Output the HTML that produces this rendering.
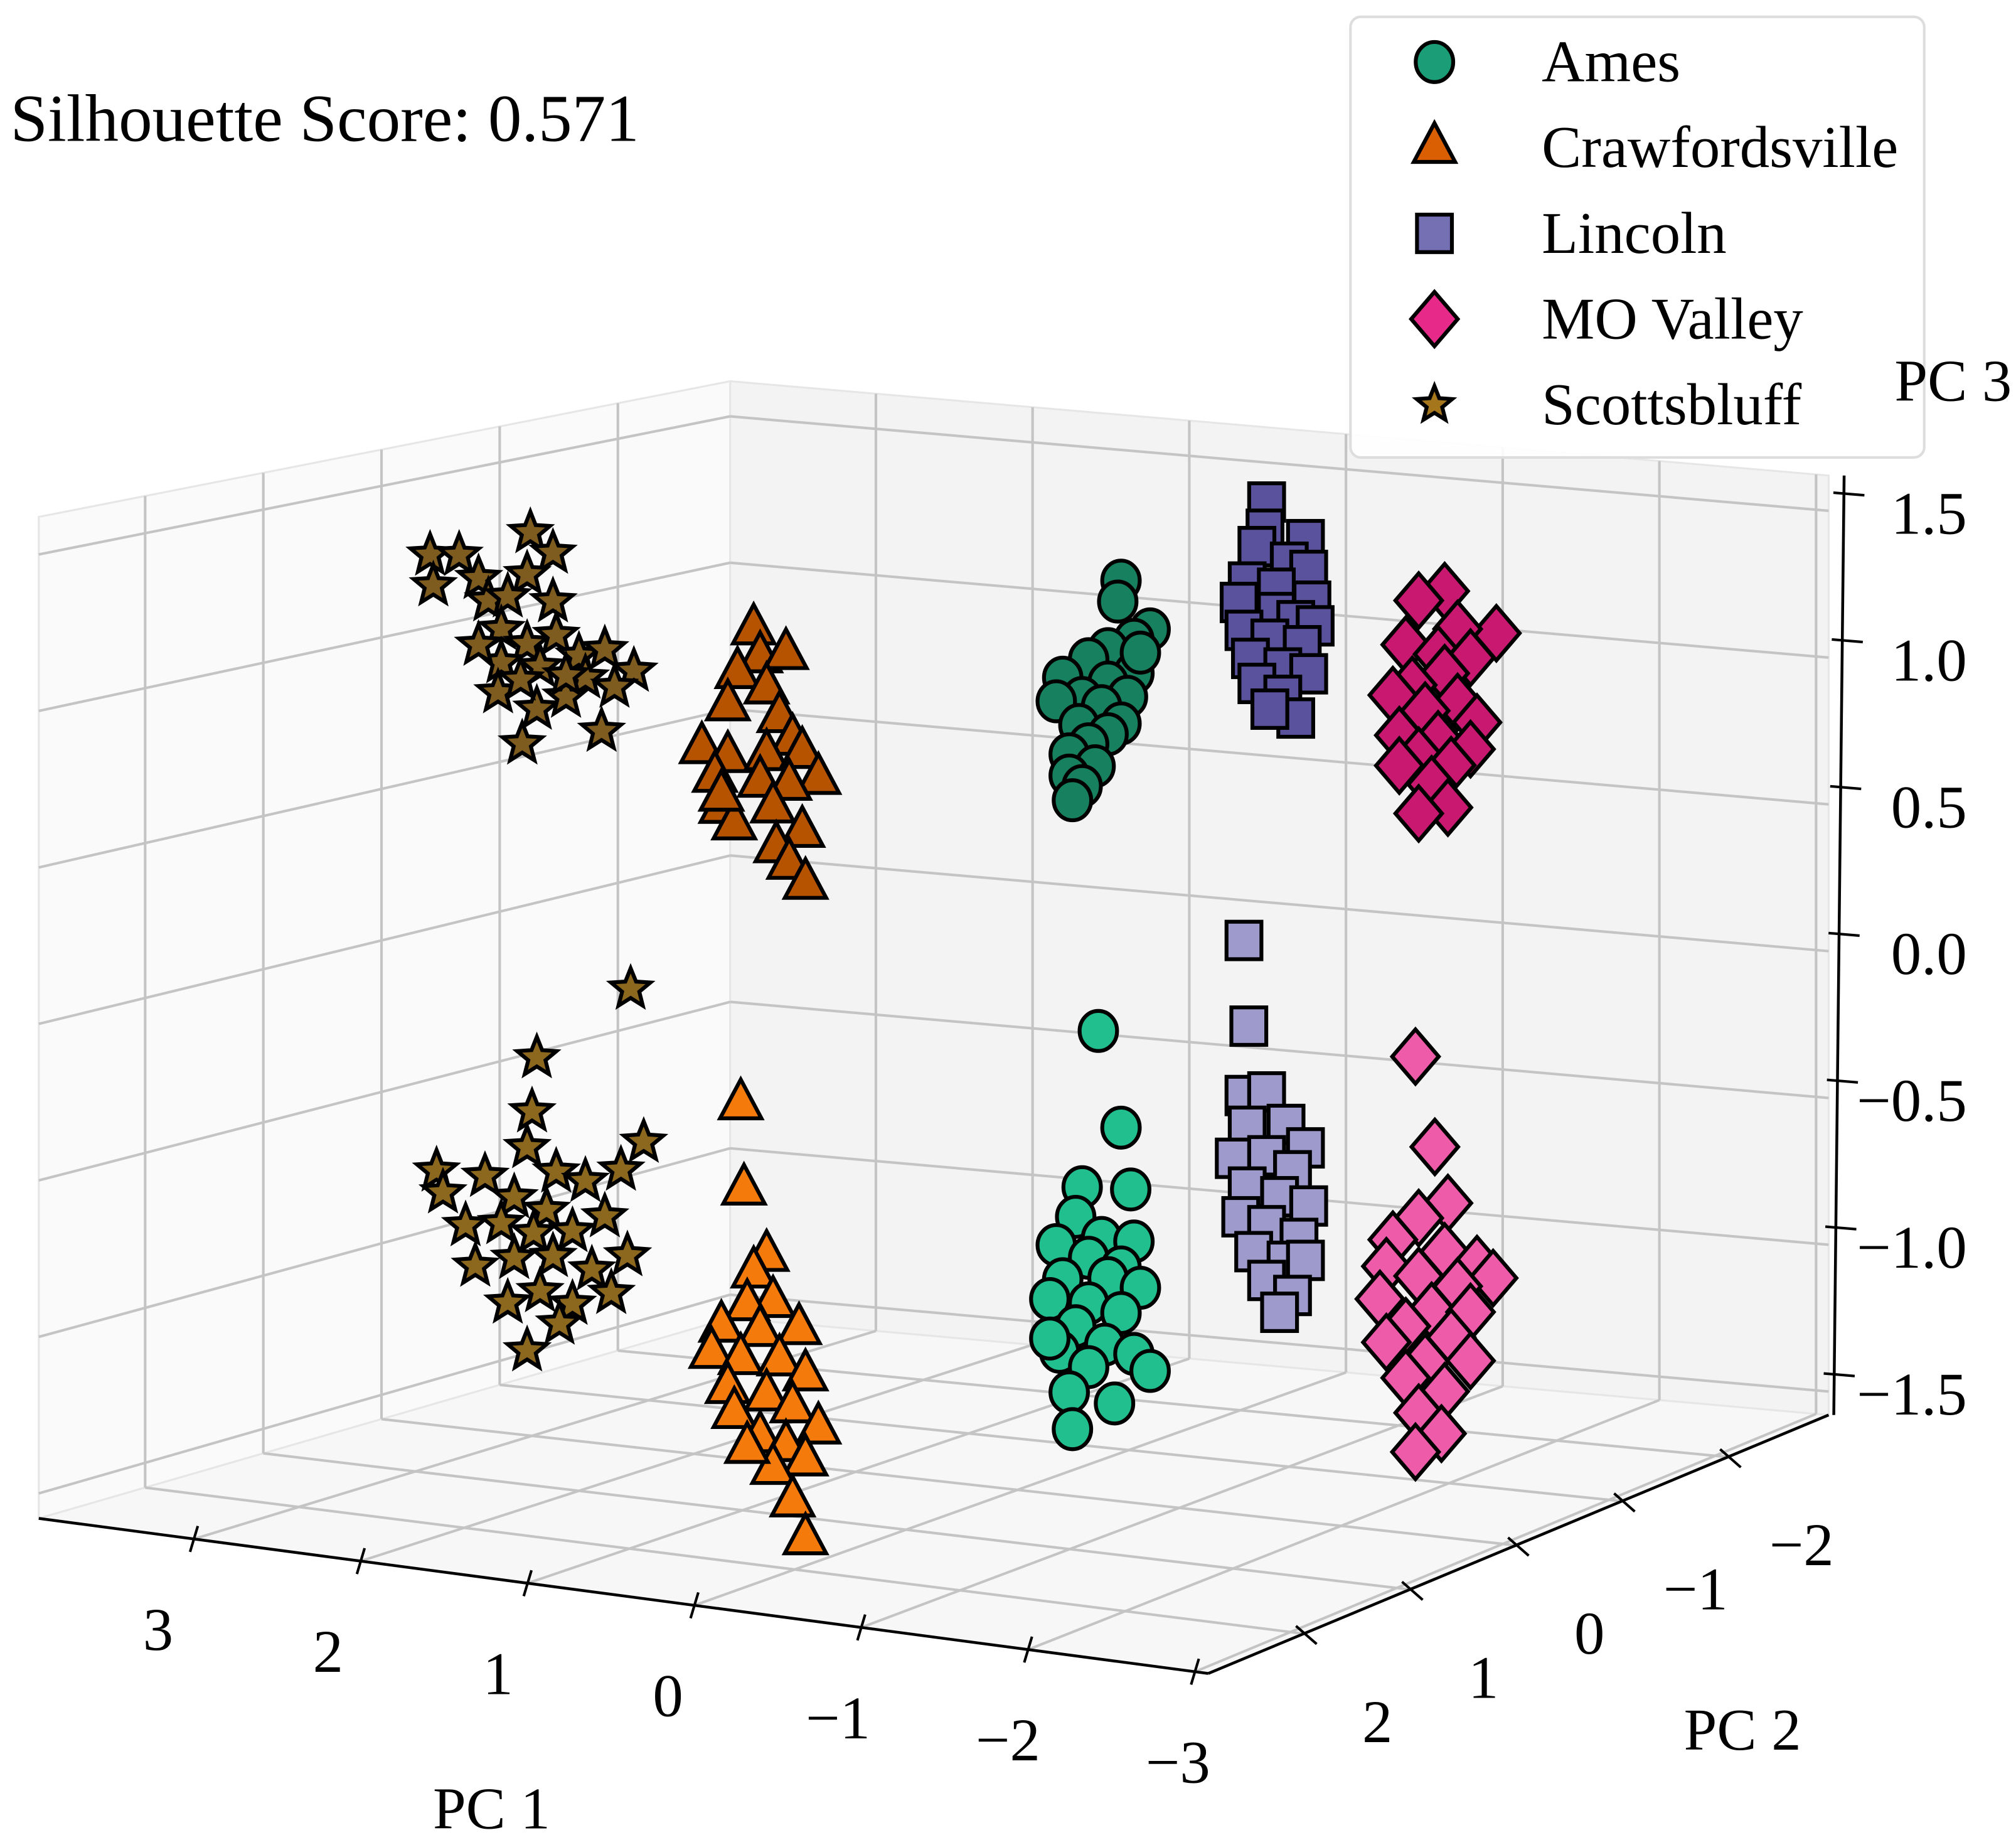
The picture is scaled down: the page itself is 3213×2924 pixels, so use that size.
<!DOCTYPE html>
<html><head><meta charset="utf-8"><title>PCA 3D scatter</title>
<style>
html,body{margin:0;padding:0;background:#fff;}
svg{display:block;}
text{font-family:"Liberation Serif","DejaVu Serif",serif;fill:#000;}
</style></head>
<body>
<svg id="chart" xmlns="http://www.w3.org/2000/svg" width="3213" height="2924" viewBox="0 0 1560 1420" preserveAspectRatio="none">
  <rect x="0" y="0" width="1560" height="1420" fill="#ffffff"/>
  <g id="panes"></g>
  <g id="grid"></g>
  <g id="axes"></g>
  <g id="points"></g>
  <text x="8" y="109" font-size="52">Silhouette Score: 0.571</text>
  <text x="335" y="1415" font-size="46">PC 1</text>
  <text x="1303" y="1354" font-size="46">PC 2</text>
  <g id="legend">
    <rect x="1045" y="13" width="444" height="341" rx="8" fill="#ffffff" fill-opacity="0.9" stroke="#dddddd" stroke-width="2"/>
  </g>
  <text x="1466" y="310" font-size="46">PC 3</text>
</svg>
<script>
// ---------------- data (PC1, PC3 per site cluster; PC2 ~ 0) ----------------
const scottsUpperPC1 = [3.63,3.45,3.61,3.33,3.27,3.01,2.87,3.03,3.15,2.87,3.19,3.03,2.85,2.71,2.55,2.37,2.67,2.95,3.19,3.21,2.97,2.79,2.57,3.06,2.49,2.79,3.07,3.33];
const scottsUpperPC3 = [1.29,1.30,1.19,1.23,1.16,1.40,1.34,1.26,1.18,1.18,1.07,1.03,1.07,1.01,1.04,0.98,0.94,0.96,0.96,0.86,0.82,0.87,0.77,0.70,0.92,0.94,0.91,1.01];
const scottsLowerPC1 = [2.39,2.97,3.00,2.31,3.03,2.45,3.59,3.29,2.85,2.67,3.55,3.11,2.91,2.55,3.41,3.19,2.99,2.75,2.41,3.35,3.11,2.87,2.63,2.95,2.75,2.51,2.83,3.03,3.15];
const scottsLowerPC3 = [-0.07,-0.33,-0.51,-0.57,-0.63,-0.67,-0.74,-0.74,-0.70,-0.72,-0.81,-0.80,-0.83,-0.83,-0.91,-0.89,-0.91,-0.89,-0.95,-1.04,-1.00,-0.98,-1.01,-1.10,-1.13,-1.08,-1.20,-1.30,-1.15];
const crawUpperPC1 = [1.63,1.59,1.43,1.73,1.55,1.79,1.47,1.39,1.95,1.79,1.55,1.33,1.23,1.87,1.59,1.41,1.83,1.51,1.33,1.75,1.49,1.41,1.31,1.83];
const crawUpperPC3 = [1.16,1.07,1.09,1.01,0.97,0.90,0.88,0.81,0.75,0.73,0.75,0.77,0.69,0.66,0.66,0.66,0.56,0.58,0.51,0.51,0.45,0.40,0.34,0.60];
const crawLowerPC1 = [1.71,1.69,1.55,1.63,1.51,1.67,1.35,1.83,1.59,1.89,1.71,1.47,1.31,1.79,1.55,1.39,1.75,1.23,1.59,1.43,1.31,1.51,1.39,1.31,1.67];
const crawLowerPC3 = [-0.41,-0.69,-0.90,-0.96,-1.05,-1.07,-1.13,-1.15,-1.15,-1.24,-1.25,-1.24,-1.28,-1.35,-1.36,-1.39,-1.43,-1.45,-1.50,-1.52,-1.56,-1.60,-1.70,-1.82,-1.54];
const amesUpperPC1 = [-0.64,-0.62,-0.82,-0.72,-0.56,-0.72,-0.44,-0.28,-0.56,-0.68,-0.40,-0.24,-0.52,-0.64,-0.38,-0.56,-0.44,-0.32,-0.48,-0.32,-0.40,-0.34,-0.76];
const amesUpperPC3 = [1.45,1.38,1.30,1.26,1.22,1.15,1.18,1.11,1.11,1.07,1.05,1.03,1.03,0.98,0.96,0.94,0.90,0.86,0.83,0.79,0.76,0.71,1.22];
const amesLowerPC1 = [-0.50,-0.64,-0.40,-0.70,-0.36,-0.52,-0.72,-0.24,-0.44,-0.64,-0.28,-0.56,-0.76,-0.20,-0.44,-0.64,-0.36,-0.54,-0.72,-0.26,-0.82,-0.44,-0.32,-0.60,-0.34,-0.20];
const amesLowerPC3 = [-0.04,-0.35,-0.56,-0.55,-0.66,-0.72,-0.72,-0.76,-0.79,-0.81,-0.87,-0.85,-0.87,-0.94,-0.94,-0.96,-1.02,-1.07,-1.09,-1.11,-1.14,-1.15,-1.24,-1.26,-1.36,-1.07];
const lincolnUpperPC1 = [-1.54,-1.53,-1.78,-1.48,-1.68,-1.80,-1.42,-1.60,-1.82,-1.37,-1.60,-1.72,-1.84,-1.40,-1.56,-1.76,-1.44,-1.64,-1.80,-1.48,-1.64,-1.72,-1.56];
const lincolnUpperPC3 = [1.76,1.67,1.65,1.61,1.57,1.55,1.49,1.48,1.45,1.42,1.40,1.38,1.37,1.33,1.31,1.30,1.24,1.22,1.21,1.16,1.13,1.06,1.08];
const lincolnLowerPC1 = [-1.40,-1.43,-1.40,-1.54,-1.66,-1.42,-1.78,-1.34,-1.54,-1.70,-1.42,-1.62,-1.80,-1.38,-1.54,-1.74,-1.46,-1.66,-1.78,-1.54,-1.70,-1.62];
const lincolnLowerPC3 = [0.31,0.03,-0.20,-0.18,-0.28,-0.30,-0.35,-0.41,-0.39,-0.43,-0.50,-0.52,-0.54,-0.60,-0.62,-0.65,-0.71,-0.73,-0.72,-0.80,-0.84,-0.90];
const moUpperPC1 = [-2.64,-2.48,-2.96,-2.72,-2.40,-2.60,-2.80,-2.64,-2.44,-2.32,-2.72,-2.52,-2.84,-2.36,-2.60,-2.80,-2.48,-2.68,-2.36,-2.56,-2.66,-2.48];
const moUpperPC3 = [1.53,1.49,1.41,1.41,1.34,1.32,1.32,1.26,1.21,1.17,1.17,1.13,1.11,1.04,1.04,1.02,0.98,0.96,0.94,0.89,0.82,0.79];
const moLowerPC1 = [-2.46,-2.58,-2.66,-2.48,-2.32,-2.64,-2.84,-2.28,-2.48,-2.94,-2.72,-2.24,-2.56,-2.80,-2.40,-2.68,-2.28,-2.52,-2.80,-2.40,-2.64,-2.48,-2.62,-2.46];
const moLowerPC3 = [-0.01,-0.30,-0.48,-0.54,-0.62,-0.64,-0.67,-0.71,-0.73,-0.71,-0.75,-0.82,-0.84,-0.83,-0.90,-0.92,-0.96,-1.01,-0.99,-1.07,-1.10,-1.18,-1.24,-1.31];
const pc1Ticks = [3,2,1,0,-1,-2,-3];
const pc2Ticks = [2,1,0,-1,-2];
const pc3Ticks = [1.5,1.0,0.5,0.0,-0.5,-1.0,-1.5];
const pc1TickLabels = ["3","2","1","0","\u22121","\u22122","\u22123"];
const pc2TickLabels = ["2","1","0","\u22121","\u22122"];
const pc3TickLabels = ["1.5","1.0","0.5","0.0","\u22120.5","\u22121.0","\u22121.5"];
const legendLabels = ["Ames","Crawfordsville","Lincoln","MO Valley","Scottsbluff"];

// ---------------- projection ----------------
const NS = "http://www.w3.org/2000/svg";
const pc1Min=-3.08, pc1Max=3.93, pc2Min=-2.95, pc2Max=2.9, zMin=-1.58, zMax=1.62;
const FL={x:30,y:1175,h:775}, FR={x:935,y:1295,h:780}, BL={x:565,y:1020,h:725}, BR={x:1415,y:1095,h:727};
function proj(a,b,c){
  const u=(pc1Max-a)/(pc1Max-pc1Min), v=(pc2Max-b)/(pc2Max-pc2Min);
  const w0=(1-u)*(1-v), w1=u*(1-v), w2=(1-u)*v, w3=u*v;
  const x=FL.x*w0+FR.x*w1+BL.x*w2+BR.x*w3;
  const yf=FL.y*w0+FR.y*w1+BL.y*w2+BR.y*w3;
  const h=FL.h*w0+FR.h*w1+BL.h*w2+BR.h*w3;
  return [x, yf-(c-zMin)/(zMax-zMin)*h];
}
function mk(tag,attrs,parent){const e=document.createElementNS(NS,tag);for(const k in attrs)e.setAttribute(k,attrs[k]);parent.appendChild(e);return e;}
function poly(pts){return pts.map(p=>p[0].toFixed(1)+","+p[1].toFixed(1)).join(" ");}

const panes=document.getElementById('panes'), grid=document.getElementById('grid'), axes=document.getElementById('axes'), pts=document.getElementById('points');

let e;
e=mk('polygon',{points:poly([proj(pc1Max,pc2Max,zMin),proj(pc1Max,pc2Min,zMin),proj(pc1Max,pc2Min,zMax),proj(pc1Max,pc2Max,zMax)]),fill:'#fafafa',stroke:'#e6e6e6','stroke-width':1.5},panes);


e=mk('polygon',{points:poly([proj(pc1Max,pc2Min,zMin),proj(pc1Min,pc2Min,zMin),proj(pc1Min,pc2Min,zMax),proj(pc1Max,pc2Min,zMax)]),fill:'#f3f3f3',stroke:'#e6e6e6','stroke-width':1.5},panes);


e=mk('polygon',{points:poly([proj(pc1Max,pc2Max,zMin),proj(pc1Min,pc2Max,zMin),proj(pc1Min,pc2Min,zMin),proj(pc1Max,pc2Min,zMin)]),fill:'#f7f7f7',stroke:'#e6e6e6','stroke-width':1.5},panes);



function gline(p,q,name){const l=mk('line',{x1:p[0],y1:p[1],x2:q[0],y2:q[1],stroke:'#c4c4c4','stroke-width':2},grid);
  
  }
pc1Ticks.forEach(t=>{gline(proj(t,pc2Max,zMin),proj(t,pc2Min,zMin),'floor-grid-pc1');gline(proj(t,pc2Min,zMin),proj(t,pc2Min,zMax),'back-grid-pc1');});
pc2Ticks.forEach(t=>{gline(proj(pc1Max,t,zMin),proj(pc1Min,t,zMin),'floor-grid-pc2');gline(proj(pc1Max,t,zMin),proj(pc1Max,t,zMax),'left-grid-pc2');});
pc3Ticks.forEach(t=>{gline(proj(pc1Max,pc2Max,t),proj(pc1Max,pc2Min,t),'left-grid-pc3');gline(proj(pc1Max,pc2Min,t),proj(pc1Min,pc2Min,t),'back-grid-pc3');});

function aline(p,q,name,w){const l=mk('line',{x1:p[0],y1:p[1],x2:q[0],y2:q[1],stroke:'#000','stroke-width':w||2.2},axes);
  
  }
aline(proj(pc1Max,pc2Max,zMin),proj(pc1Min,pc2Max,zMin),'x-axis-line');
aline(proj(pc1Min,pc2Max,zMin),proj(pc1Min,pc2Min,zMin),'y-axis-line');
const zb=proj(pc1Min,pc2Min,zMin), zt=proj(pc1Min,pc2Min,zMax);
aline([zb[0]+4,zb[1]],[zt[0]+12,zt[1]],'z-axis-line');
function tlabel(x,y,s,anchor,name){const t=mk('text',{x:x,y:y,'font-size':47,'text-anchor':anchor,'dominant-baseline':'central'},axes);t.textContent=s;
  
  }
pc1Ticks.forEach((t,i)=>{const p=proj(t,pc2Max,zMin);const u=(pc1Max-t)/(pc1Max-pc1Min);
  aline([p[0]+3,p[1]-10],[p[0]-3,p[1]+10],'x-tick',2);
  tlabel(p[0]-30+17*u,p[1]+70,pc1TickLabels[i],'middle','x-tick-label');});
pc2Ticks.forEach((t,i)=>{const p=proj(pc1Min,t,zMin);
  aline([p[0]-6,p[1]-6],[p[0]+10,p[1]+8],'y-tick',2);
  tlabel(p[0]+57,p[1]+68,pc2TickLabels[i],'middle','y-tick-label');});
pc3Ticks.forEach((t,i)=>{const p=proj(pc1Min,pc2Min,t);const frac=(t-zMin)/(zMax-zMin);const ax=zb[0]+4+8*frac;
  aline([ax-8,p[1]-14],[ax+16,p[1]-12],'z-tick',2);
  tlabel(1522,p[1]+2,pc3TickLabels[i],'end','z-tick-label');});

function starPts(cx,cy,R,r){const a=[];for(let k=0;k<10;k++){const ang=-Math.PI/2+k*Math.PI/5;const rr=k%2?r:R;a.push([cx+rr*Math.cos(ang),cy+rr*Math.sin(ang)]);}return poly(a);}
function marker(shape,x,y,fill,parent,scale){
  const s=scale||1; let m;
  if(shape==='circle') m=mk('ellipse',{cx:x,cy:y,rx:14.5*s,ry:15.5*s},parent);
  else if(shape==='triangle') m=mk('polygon',{points:poly([[x,y-19*s],[x+16*s,y+11*s],[x-16*s,y+11*s]])},parent);
  else if(shape==='square') m=mk('rect',{x:x-13.5*s,y:y-14.5*s,width:27*s,height:29*s},parent);
  else if(shape==='diamond') m=mk('polygon',{points:poly([[x,y-21*s],[x+18*s,y],[x,y+21*s],[x-18*s,y]])},parent);
  else m=mk('polygon',{points:starPts(x,y,16*s,7*s)},parent);
  m.setAttribute('fill',fill);m.setAttribute('stroke','#000');m.setAttribute('stroke-width',3);m.setAttribute('stroke-linejoin','miter');
  return m;
}
const series=[
  {name:'scottsbluff-lower',shape:'star',fill:'#8c671e',a:scottsLowerPC1,c:scottsLowerPC3},
  {name:'crawfordsville-lower',shape:'triangle',fill:'#f57a0c',a:crawLowerPC1,c:crawLowerPC3},
  {name:'ames-lower',shape:'circle',fill:'#20bf8d',a:amesLowerPC1,c:amesLowerPC3},
  {name:'lincoln-lower',shape:'square',fill:'#9e9acb',a:lincolnLowerPC1,c:lincolnLowerPC3},
  {name:'mo-valley-lower',shape:'diamond',fill:'#ee5ca9',a:moLowerPC1,c:moLowerPC3},
  {name:'scottsbluff-upper',shape:'star',fill:'#7e5b1e',a:scottsUpperPC1,c:scottsUpperPC3},
  {name:'crawfordsville-upper',shape:'triangle',fill:'#b65300',a:crawUpperPC1,c:crawUpperPC3},
  {name:'ames-upper',shape:'circle',fill:'#17805f',a:amesUpperPC1,c:amesUpperPC3},
  {name:'lincoln-upper',shape:'square',fill:'#5a529c',a:lincolnUpperPC1,c:lincolnUpperPC3},
  {name:'mo-valley-upper',shape:'diamond',fill:'#c8186f',a:moUpperPC1,c:moUpperPC3}
];
series.forEach(sr=>{
  const g=mk('g',{},pts);
  
  
  sr.a.forEach((v,i)=>{const p=proj(v,0,sr.c[i]);const m=marker(sr.shape,p[0],p[1],sr.fill,g);
    
    });
});

const lg=document.getElementById('legend');
const legShapes=['circle','triangle','square','diamond','star'];
const legFills=['#1b9e77','#d95f02','#7570b3','#e7298a','#a6761d'];
legendLabels.forEach((lab,i)=>{
  const y=48+i*66.3;
  const g=mk('g',{},lg);
  
  
  const m=marker(legShapes[i],1110,y,legFills[i],g,legShapes[i]==='star'?0.9:1.0);
  
  
  const t=mk('text',{x:1193,y:y+15,'font-size':46},g);t.textContent=lab;
  
  
});
</script>
</body></html>
